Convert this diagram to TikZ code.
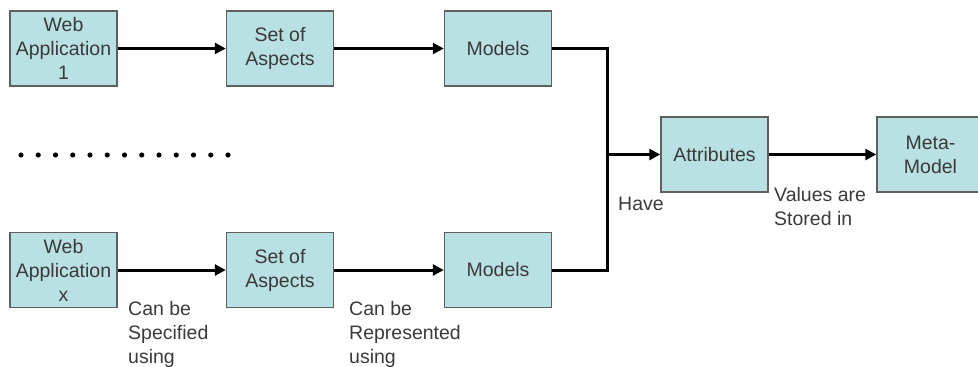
\documentclass[tikz,border=0pt]{standalone}
\usepackage{fontspec}
\setmainfont{Liberation Sans}
\usetikzlibrary{arrows.meta}
\definecolor{boxfill}{HTML}{B9E0E3}
\definecolor{boxline}{HTML}{606060}
\definecolor{txt}{HTML}{3A3A3A}
\begin{document}
\begin{tikzpicture}[x=1pt,y=-1pt,
  every node/.style={font=\fontsize{19.5}{24}\selectfont, text=txt},
  box/.style={draw=boxline, line width=1.5pt, fill=boxfill,
    minimum width=107pt, minimum height=75pt, inner sep=0pt, align=center},
  lbl/.style={anchor=north west, align=left, inner sep=0pt},
  flow/.style={line width=3pt, -{Triangle[length=11pt,width=11pt]}},
  link/.style={line width=3pt}]
\useasboundingbox (0,0) rectangle (978,367);

% top row
\node[box] (wa1) at (63.5,48.5) {Web\\Application\\1};
\node[box] (sa1) at (280,48.5) {Set of\\Aspects};
\node[box] (m1)  at (498,48.5) {Models};

% bottom row
\node[box] (wax) at (63.5,270) {Web\\Application\\x};
\node[box] (sax) at (280,270) {Set of\\Aspects};
\node[box] (mx)  at (498,270) {Models};

% right side
\node[box] (attr) at (714.5,154.5) {Attributes};
\node[box] (meta) at (930.5,154.5) {Meta-\\Model};

% ellipsis between the rows
\foreach \i in {0,...,12}
  \fill (21+\i*17.25,155) circle (2.6pt);

% connectors
\draw[flow] (wa1) -- (sa1);
\draw[flow] (sa1) -- (m1);
\draw[flow] (wax) -- (sax);
\draw[flow] (sax) -- (mx);

\coordinate (join) at (607,154.5);
\draw[link] (m1.east) -| (join);
\draw[link] (mx.east) -| (join);
\draw[flow] ([xshift=-1.5pt]join) -- (attr);
\draw[flow] (attr) -- (meta);

% labels
\node[lbl] (l1) at (128,301) {Can be\\Specified\\using};
\node[lbl] (l2) at (349,301) {Can be\\Represented\\using};
\node[lbl] (l3) at (618,197) {Have};
\node[lbl] (l4) at (774,187) {Values are\\Stored in};
\end{tikzpicture}
\end{document}
